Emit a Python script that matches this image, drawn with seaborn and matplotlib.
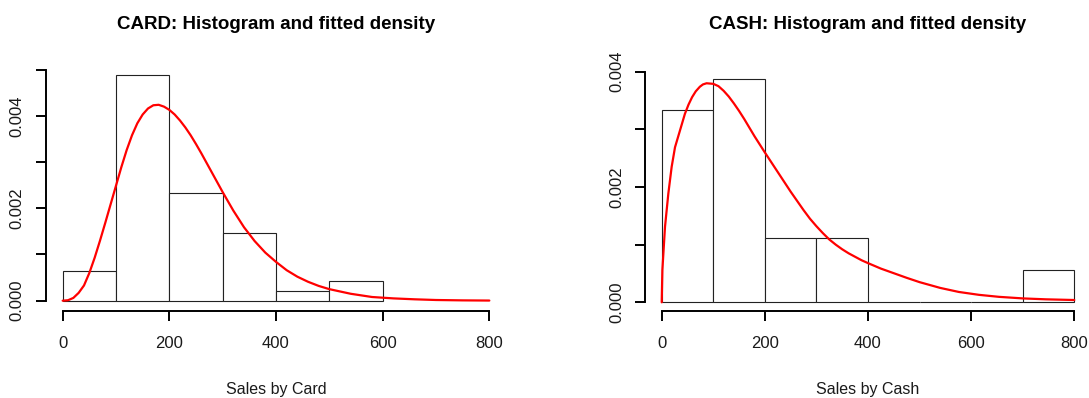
import matplotlib
matplotlib.use('Agg')
import matplotlib.pyplot as plt
import seaborn as sns

# ── Data ─────────────────────────────────────────────────────────────────────
bin_edges = [0, 100, 200, 300, 400, 500, 600, 700, 800]

card_density = [0.00065, 0.00488, 0.00233, 0.00147, 0.00022, 0.00043]
cash_density = [0.00333, 0.00388, 0.00111, 0.00111, 0.0, 0.0, 0.0, 0.00056]

card_curve_x = [0, 10, 20, 30, 40, 50, 60, 70, 80, 90, 100, 110, 120, 130, 140, 150,
                160, 170, 180, 190, 200, 210, 220, 230, 240, 250, 260, 270, 280,
                290, 300, 310, 320, 340, 360, 380, 400, 420, 440, 460, 480, 500,
                540, 580, 620, 660, 700, 750, 800]
card_curve_y = [0, 0.00001, 0.00006, 0.00017, 0.00033, 0.00060, 0.00093, 0.00130,
                0.00169, 0.00209, 0.00249, 0.00289, 0.00326, 0.00358, 0.00384,
                0.00403, 0.00416, 0.00423, 0.00424, 0.00420, 0.00413, 0.00403,
                0.00390, 0.00375, 0.00358, 0.00339, 0.00319, 0.00298, 0.00277,
                0.00256, 0.00235, 0.00215, 0.00195, 0.00159, 0.00129, 0.00104,
                0.00084, 0.00066, 0.00052, 0.00041, 0.00032, 0.00025, 0.00015,
                0.00008, 0.00005, 0.00003, 0.000015, 0.000007, 0.000003]

cash_curve_x = [0, 1.3, 6.4, 12.9, 19.3, 25.8, 35.4, 45, 52, 59, 66, 74, 80, 87, 100,
                110, 120, 130, 140, 150, 160, 170, 180, 190, 200, 225, 250, 262.5,
                275, 287.5, 300, 312.5, 325, 337.5, 350, 362.5, 375, 387.5, 400,
                425, 450, 475, 500, 540, 576, 615, 654, 700, 745, 800]
cash_curve_y = [0, 0.00056, 0.00131, 0.00189, 0.00235, 0.00269, 0.00298, 0.00327,
                0.00343, 0.00356, 0.00366, 0.00374, 0.00378, 0.00380, 0.00379,
                0.00375, 0.00367, 0.00357, 0.00345, 0.00332, 0.00318, 0.00303,
                0.00288, 0.00274, 0.00260, 0.00226, 0.00192, 0.00176, 0.00160,
                0.00145, 0.00132, 0.00120, 0.00109, 0.00100, 0.00092, 0.00085,
                0.00079, 0.00073, 0.00068, 0.000585, 0.000505, 0.000425, 0.00035,
                0.00025, 0.00018, 0.00013, 0.000095, 0.000068, 0.000052, 0.00004]

x_ticks = [0, 200, 400, 600, 800]
card_yticks = [0, 0.001, 0.002, 0.003, 0.004, 0.005]
cash_yticks = [0, 0.001, 0.002, 0.003, 0.004]
y_ticklabels = ['0.000', '', '0.002', '', '0.004', '']

titles = ['CARD: Histogram and fitted density', 'CASH: Histogram and fitted density']
xlabels = ['Sales by Card', 'Sales by Cash']

# ── Style ────────────────────────────────────────────────────────────────────
sns.set_style('ticks')
plt.rcParams['font.family'] = ['Liberation Sans', 'DejaVu Sans']
plt.rcParams['text.color'] = 'black'

W, H = 1089, 398
fig = plt.figure(figsize=(W / 100, H / 100), dpi=100)


def px_axes(left, right, bottom, top):
    return fig.add_axes([left / W, 1 - bottom / H, (right - left) / W, (bottom - top) / H])


ax_card = px_axes(45.6, 506.4, 311.0, 33.0)
ax_cash = px_axes(645.2, 1090.8, 311.2, 33.0)

panels = [
    (ax_card, card_density, card_curve_x, card_curve_y, card_yticks, (-0.000223, 0.005794), 0.5),
    (ax_cash, cash_density, cash_curve_x, cash_curve_y, cash_yticks, (-0.000154, 0.004672), -3.0),
]

for i, (ax, dens, cx, cy, yticks, ylim, tpad) in enumerate(panels):
    edges = bin_edges[:len(dens) + 1]
    mids = [(edges[j] + edges[j + 1]) / 2 for j in range(len(dens))]
    sns.histplot(x=mids, weights=dens, bins=edges, stat='count', ax=ax,
                 color='white', edgecolor='#222222', linewidth=0.8, alpha=1)
    sns.lineplot(x=cx, y=cy, ax=ax, color='red', linewidth=1.6)

    ax.set_xlim(-32, 832)
    ax.set_ylim(*ylim)
    ax.set_xticks(x_ticks)
    ax.set_xticklabels([str(t) for t in x_ticks])
    ax.set_yticks(yticks)
    ax.set_yticklabels(y_ticklabels[:len(yticks)], rotation=90, va='center')

    sns.despine(ax=ax)
    for side in ['left', 'bottom']:
        ax.spines[side].set_linewidth(1.4)
        ax.spines[side].set_color('black')
    ax.spines['left'].set_bounds(yticks[0], yticks[-1])
    ax.spines['bottom'].set_bounds(0, 800)

    ax.tick_params(axis='both', direction='out', length=7, width=1.4,
                   color='black', labelsize=12, labelcolor='#1a1a1a')
    ax.tick_params(axis='y', pad=8)
    ax.tick_params(axis='x', pad=11)

    ax.set_ylabel('')
    ax.set_xlabel(xlabels[i], fontsize=11.5, labelpad=22, color='#1a1a1a')
    ax.set_title(titles[i], fontsize=13.5, fontweight='bold', pad=tpad, color='black')

plt.savefig('out.png', dpi=100)
